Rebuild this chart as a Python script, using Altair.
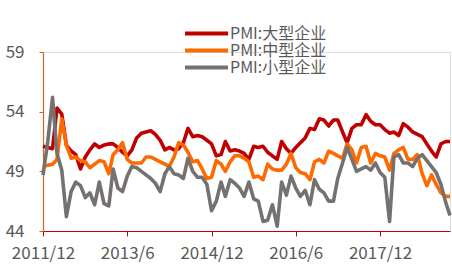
import altair as alt
import pandas as pd

series_names = ["PMI:大型企业", "PMI:中型企业", "PMI:小型企业"]
series_colors = ["#C00000", "#FF6A00", "#767171"]

large = [51.1, 51.0, 50.9, 54.3, 53.8, 51.2, 50.7, 50.4, 49.2, 50.2,
         50.8, 51.3, 51.0, 51.2, 51.3, 51.3, 51.0, 50.6, 50.3, 50.8,
         51.8, 52.2, 52.3, 52.4, 52.1, 51.6, 50.8, 51.0, 50.8, 50.9,
         51.4, 52.6, 51.9, 52.0, 51.9, 51.6, 51.3, 50.3, 50.4, 51.5,
         50.7, 50.8, 50.7, 50.5, 50.0, 51.1, 51.0, 51.1, 50.6, 50.3,
         50.0, 51.5, 50.9, 50.5, 51.0, 51.4, 51.8, 52.6, 52.5, 53.4,
         53.3, 52.8, 53.3, 53.3, 52.3, 51.4, 52.6, 52.9, 52.9, 53.75,
         53.2, 52.9, 52.9, 52.5, 52.2, 52.3, 52.0, 53.0, 52.7, 52.3,
         52.1, 51.9, 51.3, 50.7, 50.2, 51.3, 51.5, 51.5]
medium = [49.4, 49.5, 49.6, 50.0, 53.4, 51.2, 50.1, 50.2, 49.9, 49.8,
          49.3, 49.6, 49.9, 49.8, 48.8, 50.4, 50.8, 51.4, 50.0, 49.7,
          49.7, 49.7, 50.2, 50.2, 50.0, 49.8, 49.6, 49.4, 50.2, 51.4,
          51.2, 50.6, 49.8, 49.9, 49.2, 48.4, 48.5, 49.9, 49.6, 49.0,
          49.8, 50.3, 50.3, 50.1, 49.8, 48.5, 48.6, 48.3, 49.6, 49.2,
          49.1, 49.1, 49.6, 50.5, 49.3, 48.9, 48.8, 48.3, 49.8, 50.0,
          49.7, 50.7, 50.5, 50.3, 50.1, 51.3, 50.8, 49.7, 51.0, 51.1,
          49.7, 50.5, 50.3, 50.2, 49.1, 50.5, 50.8, 51.0, 50.0, 50.0,
          50.4, 48.8, 47.8, 48.7, 47.9, 47.2, 46.9, 46.9]
small = [48.7, 51.5, 55.2, 50.5, 49.1, 45.2, 47.3, 48.1, 47.8, 46.8,
         47.2, 46.2, 48.1, 46.3, 46.1, 49.2, 47.6, 47.3, 48.6, 49.4,
         49.3, 49.0, 48.7, 48.4, 48.0, 47.3, 48.8, 49.4, 48.8, 48.7,
         48.4, 50.1, 49.0, 48.5, 48.5, 47.9, 45.7, 46.5, 48.1, 46.9,
         48.3, 48.0, 47.6, 46.9, 48.1, 46.7, 46.5, 44.8, 44.9, 46.2,
         44.4, 48.1, 47.0, 48.6, 47.6, 46.9, 47.4, 46.2, 48.3, 47.5,
         47.2, 46.5, 46.5, 48.4, 49.7, 51.0, 50.0, 49.0, 49.2, 49.4,
         49.1, 49.7, 48.9, 48.5, 44.8, 50.2, 50.4, 49.7, 49.7, 49.4,
         50.1, 50.4, 49.9, 49.4, 48.9, 47.9, 46.4, 45.3]

months = pd.date_range("2011-12-01", periods=len(large), freq="MS").strftime("%Y-%m-%dT00:00:00").tolist()
tick_months = [(2011, 12), (2013, 6), (2014, 12), (2016, 6), (2017, 12)]
y_ticks = [44, 49, 54, 59]

rows = []
for name, vals in zip(series_names, [large, medium, small]):
    for m, v in zip(months, vals):
        rows.append({"month": m, "value": v, "series": name})
df = pd.DataFrame(rows)

FONT = "Noto Sans CJK SC"

chart = alt.Chart(df).mark_line(strokeWidth=3.6, strokeJoin="round").encode(
    x=alt.X("month:T",
            scale=alt.Scale(domain=[alt.DateTime(year=2011, month=12, date=1),
                                    alt.DateTime(year=2019, month=3, date=1)]),
            axis=alt.Axis(values=[alt.DateTime(year=y, month=m, date=1) for y, m in tick_months],
                          format="%Y/%-m", title=None, grid=False,
                          domainColor="#C00000", tickColor="#C00000", domainWidth=1.2,
                          tickSize=5, labelFontSize=17, labelColor="#595959",
                          labelFont=FONT, labelPadding=9, labelFlush=False)),
    y=alt.Y("value:Q",
            scale=alt.Scale(domain=[44, 59], nice=False, zero=False),
            axis=alt.Axis(values=y_ticks, title=None, grid=False,
                          domainColor="#C8662A", tickColor="#C8662A", domainWidth=1.2,
                          tickSize=4, labelFontSize=17, labelColor="#595959",
                          labelFont=FONT, labelPadding=15)),
    color=alt.Color("series:N",
                    scale=alt.Scale(domain=series_names, range=series_colors),
                    legend=alt.Legend(orient="none", legendX=155.5, legendY=-26.5, title=None,
                                      symbolType="M-5,0H5", symbolSize=74, symbolStrokeWidth=4,
                                      labelFontSize=16, labelColor="#595959", labelFont=FONT,
                                      rowPadding=1, padding=0, labelOffset=15.5)),
    detail="series:N",
).properties(
    width=407, height=179,
    autosize=alt.AutoSizeParams(type="none"),
    padding={"left": 43, "top": 52, "right": 2, "bottom": 34},
).configure_view(stroke=None).configure(background="white")

chart.save("out.html", embed_options={"renderer": "svg", "actions": False})
